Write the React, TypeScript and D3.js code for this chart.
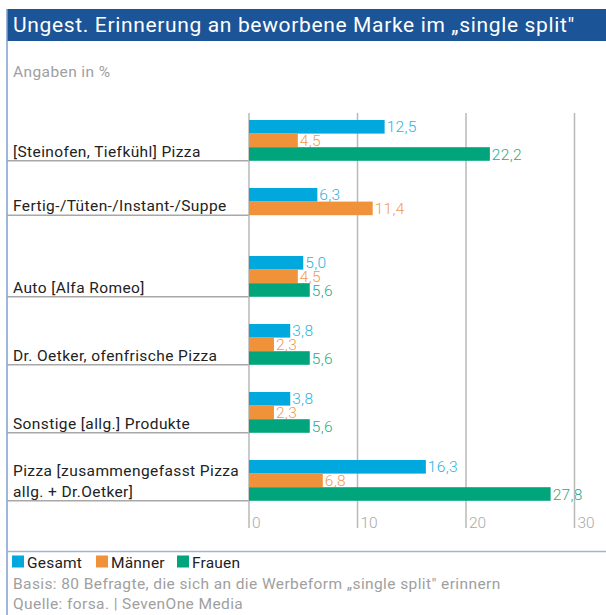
import React from "react";
import * as d3 from "d3";

const categories: string[][] = [
  ["[Steinofen, Tiefkühl] Pizza"],
  ["Fertig-/Tüten-/Instant-/Suppe"],
  ["Auto [Alfa Romeo]"],
  ["Dr. Oetker, ofenfrische Pizza"],
  ["Sonstige [allg.] Produkte"],
  ["Pizza [zusammengefasst Pizza", "allg. + Dr.Oetker]"],
];
const gesamt: (number | null)[] = [12.5, 6.3, 5.0, 3.8, 3.8, 16.3];
const maenner: (number | null)[] = [4.5, 11.4, 4.5, 2.3, 2.3, 6.8];
const frauen: (number | null)[] = [22.2, null, 5.6, 5.6, 5.6, 27.8];
const seriesNames = ["Gesamt", "Männer", "Frauen"];
const seriesColors = ["#00a8dd", "#f0923a", "#00a57c"];
const textColors = ["#29b2e3", "#f29a4c", "#1eac85"];
const ticks = [0, 10, 20, 30];

const FONT = "Roboto, 'Liberation Sans', sans-serif";

export default function App() {
  const W = 606, H = 615;
  const x = d3.scaleLinear().domain([0, 30]).range([249, 574.5]);
  const y = d3.scaleBand<number>().domain(d3.range(categories.length)).range([120, 120 + 68 * 6]).paddingInner(0).paddingOuter(0);
  const barH = 13.6;
  const fmt = (v: number) => d3.format(".1f")(v).replace(".", ",");
  const series = [gesamt, maenner, frauen];

  const groups = categories.map((lab, i) => {
    const top = y(i)!;
    const present = series.map((s, k) => ({ v: s[i], k })).filter((d) => d.v !== null) as { v: number; k: number }[];
    const lineY = top + present.length * barH;
    return { lab, top, present, lineY };
  });

  return (
    <svg width={W} height={H} style={{ position: "absolute", left: 0, top: 0, background: "#fff" }} fontFamily={FONT}>
      <rect x={7} y={9} width={W - 7} height={32} fill="#1b5598" />
      <text x={13} y={32} fill="#fff" fontSize={21} letterSpacing={0.65}>Ungest. Erinnerung an beworbene Marke im „single split"</text>
      <line x1={7} x2={7} y1={9} y2={H} stroke="#7f9fcc" strokeWidth={1.5} />
      <text x={13} y={77} fill="#a0a0a0" fontSize={15.5} letterSpacing={0.4}>Angaben in %</text>

      {groups.map((g, i) => (
        <g key={"c" + i}>
          <line x1={7} x2={x(0)} y1={g.lineY} y2={g.lineY} stroke="#a8a8a8" strokeWidth={1.5} />
          {g.lab.map((t, j) => (
            <text key={j} x={13} y={g.lineY - 4 - (g.lab.length - 1 - j) * 21} fill="#222" fontSize={15.5} letterSpacing={0.4}>{t}</text>
          ))}
          {g.present.map((d, j) => (
            <text key={"t" + j} x={x(d.v) + 2} y={g.top + j * barH + barH / 2 + 5.5} fill={textColors[d.k]} fontSize={15.5} fontWeight={300} letterSpacing={0.3}>{fmt(d.v)}</text>
          ))}
        </g>
      ))}

      {ticks.map((t) => (
        <g key={"g" + t}>
          <line x1={x(t)} x2={x(t)} y1={113} y2={528} stroke="#b9b9b9" strokeWidth={1.5} />
          <text x={x(t) + 3} y={528} fill="#aaaaaa" fontSize={15.5} fontWeight={300}>{t}</text>
        </g>
      ))}

      {groups.map((g, i) => (
        <g key={"b" + i}>
          {g.present.map((d, j) => (
            <rect key={j} x={x(0)} y={g.top + j * barH} width={x(d.v) - x(0)} height={barH} fill={seriesColors[d.k]} />
          ))}
        </g>
      ))}

      <line x1={7} x2={W} y1={551.5} y2={551.5} stroke="#9fb5d8" strokeWidth={1.5} />
      {seriesNames.map((n, k) => {
        const lx = [12, 96, 177][k];
        return (
          <g key={"l" + k}>
            <rect x={lx} y={555.5} width={12} height={12} fill={seriesColors[k]} />
            <text x={lx + 15} y={567.5} fill="#222" fontSize={15.5} letterSpacing={0.2}>{n}</text>
          </g>
        );
      })}
      <text x={13} y={588.5} fill="#a0a0a0" fontSize={15.5} letterSpacing={0.4}>Basis: 80 Befragte, die sich an die Werbeform „single split" erinnern</text>
      <text x={13} y={608.5} fill="#a0a0a0" fontSize={15.5} letterSpacing={0.4}>Quelle: forsa. | SevenOne Media</text>
    </svg>
  );
}
